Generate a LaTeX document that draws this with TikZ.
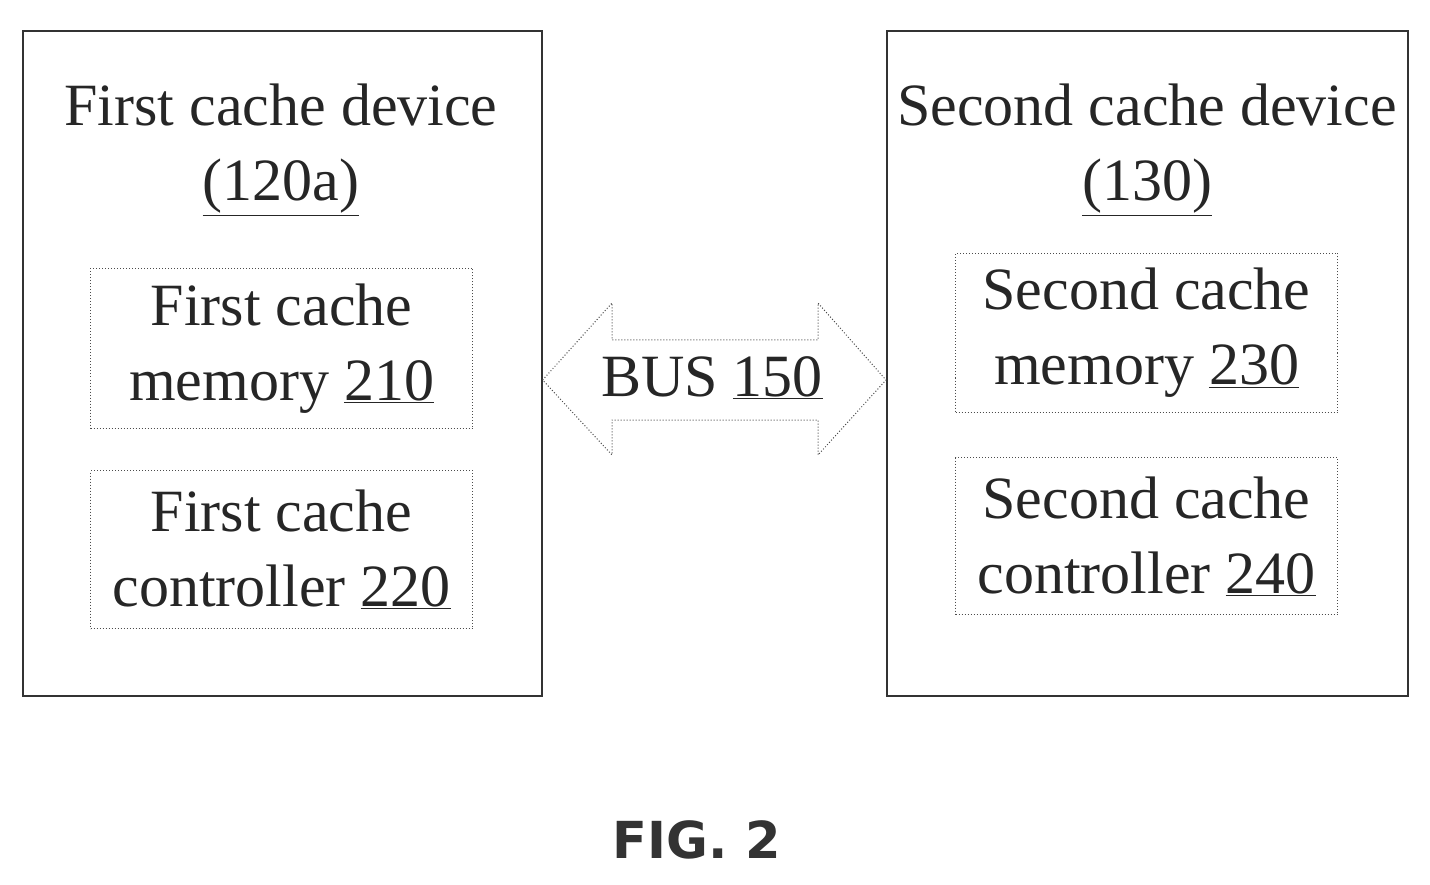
\documentclass[tikz,border=0pt]{standalone}
\usepackage{fontspec}
\setmainfont{Liberation Serif}
\setsansfont{DejaVu Sans}
\begin{document}
\begin{tikzpicture}[x=1pt,y=-1pt,
  outer/.style={draw=black!80,line width=1.6pt},
  inner/.style={draw=black!70,line width=1pt,dotted},
  txt/.style={font=\fontsize{60}{75}\selectfont,align=center,text=black!85,inner sep=0pt}]
\useasboundingbox (0,0) rectangle (1430,885);
\node[outer,minimum width=519,minimum height=665,anchor=north west] (b1) at (22,30) {};
\node[outer,minimum width=521,minimum height=665,anchor=north west] (b2) at (886,30) {};
\node[txt] (t1) at (281,150) {First cache device\\\underline{(120a)}};
\node[txt] (t2) at (1147,150) {Second cache device\\\underline{(130)}};
\node[inner,txt,minimum width=382,minimum height=160,anchor=north west] (m1) at (90,268) {First cache\\memory \underline{210}};
\node[inner,txt,minimum width=382,minimum height=158,anchor=north west] (c1) at (90,470) {First cache\\controller \underline{220}};
\node[inner,txt,minimum width=382,minimum height=159,anchor=north west] (m2) at (955,253) {Second cache\\memory \underline{230}};
\node[inner,txt,minimum width=382,minimum height=157,anchor=north west] (c2) at (955,457) {Second cache\\controller \underline{240}};
\draw[draw=black!70,line width=1pt,dotted] (b1.east|-0,380) -- (612,303) -- (612,340) -- (818,340) -- (818,303) -- (b2.west|-0,380) -- (818,455) -- (818,420) -- (612,420) -- (612,455) -- cycle;
\node[txt] (bus) at (712,378) {BUS \underline{150}};
\node[font=\sffamily\bfseries\fontsize{51}{56}\selectfont,text=black!80] (fig) at (697,840) {FIG. 2};
\end{tikzpicture}
\end{document}
